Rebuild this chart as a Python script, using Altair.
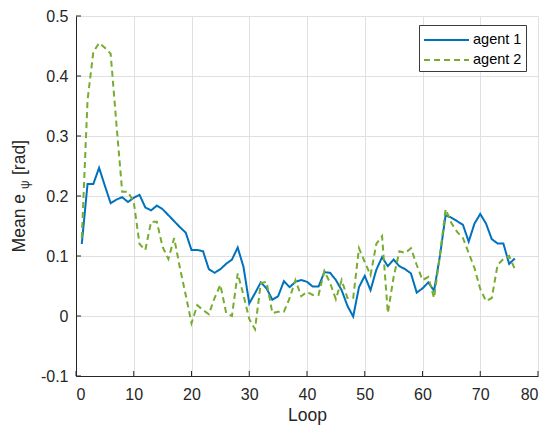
import altair as alt
import pandas as pd

# Mean heading error per loop for the two agents
loops = list(range(1, 77))
agent1 = [
    0.120, 0.220, 0.220, 0.247, 0.217, 0.188, 0.194, 0.198, 0.190, 0.197,
    0.202, 0.181, 0.176, 0.184, 0.178, 0.168, 0.158, 0.148, 0.139, 0.110,
    0.110, 0.108, 0.078, 0.072, 0.078, 0.087, 0.094, 0.114, 0.082, 0.021,
    0.038, 0.056, 0.046, 0.027, 0.033, 0.058, 0.048, 0.057, 0.060, 0.057,
    0.049, 0.049, 0.073, 0.072, 0.060, 0.043, 0.017, -0.001, 0.048, 0.067,
    0.043, 0.077, 0.098, 0.083, 0.094, 0.083, 0.078, 0.071, 0.039, 0.046,
    0.056, 0.042, 0.099, 0.168, 0.164, 0.158, 0.152, 0.124, 0.154, 0.170,
    0.154, 0.128, 0.121, 0.121, 0.087, 0.096,
]
agent2 = [
    0.130, 0.360, 0.440, 0.455, 0.447, 0.437, 0.320, 0.207, 0.207, 0.190,
    0.120, 0.110, 0.157, 0.157, 0.115, 0.095, 0.130, 0.080, 0.035, -0.012,
    0.018, 0.010, 0.003, 0.030, 0.052, 0.005, 0.000, 0.071, 0.035, -0.005,
    -0.022, 0.055, 0.057, 0.005, 0.007, 0.007, 0.030, 0.060, 0.033, 0.040,
    0.035, 0.035, 0.075, 0.055, 0.028, 0.060, 0.030, 0.030, 0.113, 0.090,
    0.068, 0.120, 0.133, 0.005, 0.065, 0.108, 0.105, 0.113, 0.085, 0.060,
    0.065, 0.030, 0.100, 0.178, 0.155, 0.140, 0.130, 0.105, 0.080, 0.045,
    0.025, 0.030, 0.085, 0.095, 0.100, 0.078,
]
series_names = ["agent 1", "agent 2"]
series_colors = ["#0072BD", "#77AC30"]
series_dashes = [[1, 0], [6, 4]]

x_ticks = [0, 10, 20, 30, 40, 50, 60, 70, 80]
y_ticks = [-0.1, 0, 0.1, 0.2, 0.3, 0.4, 0.5]

FONT = "Liberation Sans"
INK = "#262626"
W, H = 462, 360

df = pd.DataFrame({
    "loop": loops * 2,
    "value": agent1 + agent2,
    "series": ["agent 1"] * len(loops) + ["agent 2"] * len(loops),
})

x_enc = alt.X(
    "loop:Q",
    scale=alt.Scale(domain=[0, 80], nice=False, zero=False),
    axis=alt.Axis(values=x_ticks, title="Loop", format="d"),
)
y_enc = alt.Y(
    "value:Q",
    scale=alt.Scale(domain=[-0.1, 0.5], nice=False, zero=False),
    axis=alt.Axis(
        values=y_ticks,
        title=None,
        labelExpr="datum.value < 0 ? '-' + format(-datum.value, '.1~f') : format(datum.value, '.1~f')",
    ),
)

# Legend entries: a 45px line sample drawn with a custom stroke path
legend = alt.Legend(
    title=None,
    orient="none",
    legendX=343,
    legendY=9,
    symbolType="M-1,0L3.5,0",
    symbolSize=400,
    symbolStrokeWidth=2,
    labelFont=FONT,
    labelFontSize=14.5,
    labelColor="#000000",
    labelOffset=28,
    padding=4,
    rowPadding=2,
    strokeColor="#3a3a3a",
    fillColor="#ffffff",
)

lines = alt.Chart(df).mark_line(strokeWidth=2).encode(
    x=x_enc,
    y=y_enc,
    color=alt.Color(
        "series:N",
        scale=alt.Scale(domain=series_names, range=series_colors),
        legend=legend,
    ),
    strokeDash=alt.StrokeDash(
        "series:N",
        scale=alt.Scale(domain=series_names, range=series_dashes),
        legend=legend,
    ),
)

# Inward-pointing tick marks on the left and bottom axes
ytick_marks = alt.Chart(pd.DataFrame({"value": y_ticks})).mark_rule(
    color=INK, strokeWidth=1
).encode(y=y_enc, x=alt.value(0), x2=alt.value(5))

xtick_marks = alt.Chart(pd.DataFrame({"loop": x_ticks})).mark_rule(
    color=INK, strokeWidth=1
).encode(x=x_enc, y=alt.value(H), y2=alt.value(H - 5))

# Y-axis title with a subscript psi
def ylabel_part(text, x, y, size, align):
    return alt.Chart(pd.DataFrame({"t": [text]})).mark_text(
        angle=270, align=align, baseline="alphabetic",
        font=FONT, fontSize=size, color=INK,
    ).encode(x=alt.value(x), y=alt.value(y), text="t:N")

ylabel_main = ylabel_part("Mean e", -51, 178, 17.5, "right")
ylabel_sub = ylabel_part("ψ", -47, 173, 12, "left")
ylabel_unit = ylabel_part("[rad]", -51, 159, 17.5, "left")

chart = alt.layer(
    lines, ytick_marks, xtick_marks, ylabel_main, ylabel_sub, ylabel_unit
).properties(
    width=W,
    height=H,
    autosize=alt.AutoSizeParams(type="none"),
    padding={"left": 76, "top": 16, "right": 11, "bottom": 54},
    background="#ffffff",
).configure_view(
    stroke=None
).configure_axis(
    grid=True,
    gridColor="#e0e0e0",
    gridWidth=1,
    domainColor=INK,
    domainWidth=1,
    ticks=False,
    labelFont=FONT,
    labelFontSize=16,
    labelColor=INK,
    titleFont=FONT,
    titleFontSize=17.5,
    titleFontWeight="normal",
    titleColor=INK,
).configure_axisX(
    labelPadding=10,
    titlePadding=4,
).configure_axisY(
    labelPadding=8,
)

chart.save("out.html", embed_options={"renderer": "svg", "actions": False})
